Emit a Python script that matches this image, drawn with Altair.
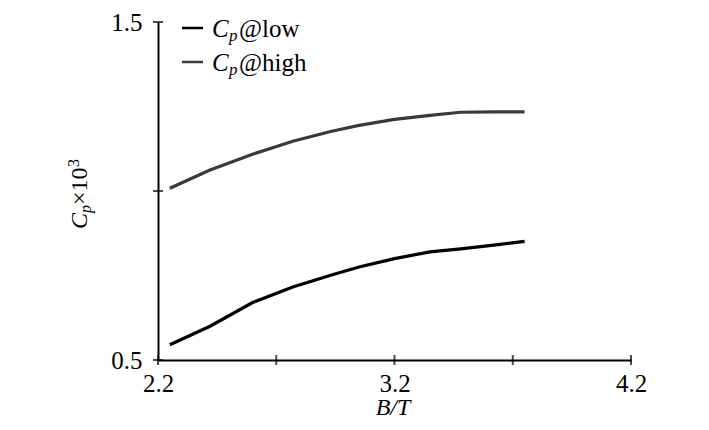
import altair as alt
import pandas as pd

# ---- data ----
BT = [2.25, 2.42, 2.60, 2.77, 2.93, 3.05, 3.20, 3.35, 3.48, 3.62, 3.75]
CP_LOW = [0.545, 0.600, 0.670, 0.716, 0.751, 0.775, 0.800, 0.820, 0.829, 0.840, 0.851]
CP_HIGH = [1.008, 1.062, 1.109, 1.147, 1.176, 1.194, 1.212, 1.224, 1.233, 1.234, 1.234]
SERIES = ["low", "high"]
X_LABELS = [2.2, 3.2, 4.2]
X_TICKS = [2.2, 2.7, 3.2, 3.7, 4.2]
Y_LABELS = [0.5, 1.5]
Y_TICKS = [0.5, 1.0, 1.5]

FONT = "Liberation Serif"
COLORS = ["#000000", "#3a3a3a"]

df = pd.concat([
    pd.DataFrame({"bt": BT, "cp": CP_LOW, "series": SERIES[0]}),
    pd.DataFrame({"bt": BT, "cp": CP_HIGH, "series": SERIES[1]}),
])

xscale = alt.Scale(domain=[2.2, 4.2], nice=False, zero=False)
yscale = alt.Scale(domain=[0.5, 1.5], nice=False, zero=False)

lines = alt.Chart(df).mark_line(strokeWidth=3.2).encode(
    x=alt.X("bt:Q", scale=xscale,
            axis=alt.Axis(values=X_LABELS, format=".1f", title=None, ticks=False, tickSize=0,
                          labelFlush=False, labelPadding=11, labelFont=FONT, labelFontSize=25,
                          labelColor="black", domainColor="black", domainWidth=2, grid=False)),
    y=alt.Y("cp:Q", scale=yscale,
            axis=alt.Axis(values=Y_LABELS, format=".1f", title=None, ticks=False, tickSize=0,
                          labelFlush=False, labelPadding=16, labelFont=FONT, labelFontSize=25,
                          labelColor="black", domainColor="black", domainWidth=2, grid=False)),
    color=alt.Color("series:N", scale=alt.Scale(domain=SERIES, range=COLORS), legend=None),
    detail="series:N",
)

ytk = alt.Chart(pd.DataFrame({"v": Y_TICKS})).mark_tick(
    orient="horizontal", size=10, thickness=2, color="black"
).encode(y=alt.Y("v:Q", scale=yscale), x=alt.datum(2.2))

xtk = alt.Chart(pd.DataFrame({"v": X_TICKS})).mark_tick(
    orient="vertical", size=10, thickness=2, color="black"
).encode(x=alt.X("v:Q", scale=xscale), y=alt.datum(0.5))


def txt(s, x, y, size, italic=False, angle=0, align="left"):
    kw = dict(text=s, font=FONT, fontSize=size, fontStyle="italic" if italic else "normal",
              align=align, baseline="alphabetic", color="black")
    if angle:
        kw["angle"] = angle
    return alt.Chart(alt.Data(values=[{}])).mark_text(**kw).encode(
        x=alt.value(x), y=alt.value(y))


def dash(color, y):
    return alt.Chart(alt.Data(values=[{}])).mark_rule(color=color, strokeWidth=2.5).encode(
        x=alt.value(24), x2=alt.value(45), y=alt.value(y))


legend = [
    dash(COLORS[0], 6),
    txt("C", 54, 15, 25, italic=True),
    txt("p", 71, 19, 17, italic=True),
    txt("@low", 81, 15, 25),
    dash(COLORS[1], 40),
    txt("C", 54, 49, 25, italic=True),
    txt("p", 71, 53, 17, italic=True),
    txt("@high", 81, 49, 25),
]

ytitle = [
    txt("C", -71, 207, 24, italic=True, angle=270),
    txt("p", -67, 191, 16, italic=True, angle=270),
    txt("\u00d710", -71, 183, 24, angle=270),
    txt("3", -79, 145, 16, angle=270),
]

xtitle = [txt("B/T", 235, 393, 24, italic=True, align="center")]

chart = alt.layer(lines, ytk, xtk, *legend, *ytitle, *xtitle).properties(
    width=473, height=338,
    autosize=alt.AutoSizeParams(type="none"),
    padding={"left": 150, "top": 14, "right": 60, "bottom": 61},
).configure_view(stroke=None)

chart.save("out.html", embed_options={"renderer": "svg", "actions": False})
